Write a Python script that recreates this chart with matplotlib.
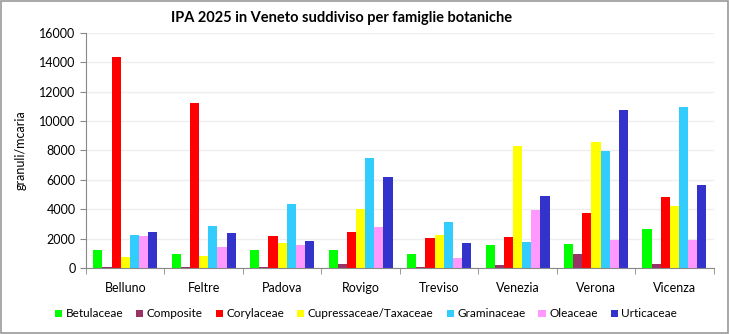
import numpy as np
import matplotlib.pyplot as plt
from matplotlib.patches import Rectangle

plt.rcParams['font.family'] = ['Lato', 'DejaVu Sans']

cities = ['Belluno', 'Feltre', 'Padova', 'Rovigo', 'Treviso', 'Venezia', 'Verona', 'Vicenza']
families = ['Betulaceae', 'Composite', 'Corylaceae', 'Cupressaceae/Taxaceae',
            'Graminaceae', 'Oleaceae', 'Urticaceae']

betulaceae = [1230, 950, 1230, 1230, 950, 1570, 1640, 2660]
composite = [70, 70, 70, 270, 70, 200, 950, 270]
corylaceae = [14400, 11250, 2180, 2450, 2050, 2110, 3750, 4840]
cupressaceae = [750, 820, 1700, 4020, 2250, 8320, 8590, 4230]
graminaceae = [2250, 2860, 4360, 7500, 3140, 1770, 7980, 10980]
oleaceae = [2180, 1430, 1570, 2800, 680, 3950, 1910, 1910]
urticaceae = [2450, 2390, 1840, 6200, 1700, 4910, 10770, 5660]

series = [betulaceae, composite, corylaceae, cupressaceae, graminaceae, oleaceae, urticaceae]
colors = ['#00ff00', '#993366', '#ff0000', '#ffff00', '#33ccff', '#ff99ff', '#3333cc']

fig = plt.figure(figsize=(7.29, 3.34), dpi=100)
ax = fig.add_axes([0.118, 0.198, 0.861, 0.703])

x = np.arange(len(cities))
w = 0.815 / 7
for i, (vals, c, name) in enumerate(zip(series, colors, families)):
    ax.bar(x + (i - 3) * w, vals, width=w, color=c, label=name, zorder=2)

ax.set_xlim(-0.5, len(cities) - 0.5)
ax.set_ylim(0, 16000)
ax.set_yticks(range(0, 16001, 2000))
ax.set_xticks(x)
ax.set_xticklabels(cities, fontsize=9)
ax.set_xticks(np.arange(-0.5, len(cities), 1), minor=True)
ax.tick_params(axis='x', which='major', length=0, pad=10)
ax.tick_params(axis='x', which='minor', length=4, color='#888888')
ax.tick_params(axis='y', length=4, color='#888888', labelsize=9)
ax.grid(axis='y', color='#eeeeee', linewidth=1, zorder=0)
for s in ['top', 'right']:
    ax.spines[s].set_visible(False)
for s in ['left', 'bottom']:
    ax.spines[s].set_color('#888888')

ax.set_ylabel('granuli/mcaria', fontsize=9, labelpad=9)
fig.text(0.468, 0.946, 'IPA 2025 in Veneto suddiviso per famiglie botaniche',
         ha='center', va='center', fontsize=10.5, fontweight='bold')

fig.legend(loc='center', bbox_to_anchor=(0.502, 0.06), ncol=7, frameon=False,
           fontsize=8.5, handlelength=0.6, handleheight=0.6, handletextpad=0.3,
           columnspacing=1.1)

fig.patches.append(Rectangle((0.001, 0.002), 0.997, 0.995, transform=fig.transFigure,
                             fill=False, edgecolor='#999999', linewidth=1.2))

fig.savefig('out.png', dpi=100)
